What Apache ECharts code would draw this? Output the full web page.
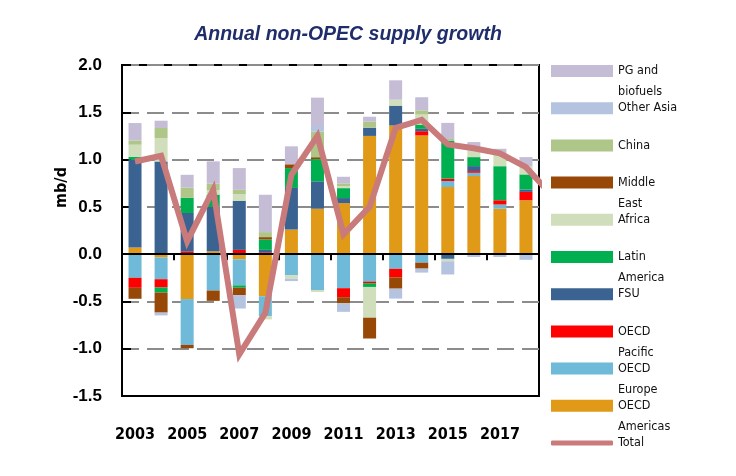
<!DOCTYPE html>
<html><head><meta charset="utf-8">
<script src="https://cdn.jsdelivr.net/npm/echarts@6/dist/echarts.min.js"></script>
<style>html,body{margin:0;padding:0;background:#fff}#c{width:736px;height:476px}</style>
</head><body><div id="c"></div>
<script>
// ---- data (mb/d) ----
const years = ['2003','2004','2005','2006','2007','2008','2009','2010','2011','2012','2013','2014','2015','2016','2017','2018'];
const oecdAmericas = [0.07,-0.035,-0.475,0.03,-0.055,-0.445,0.26,0.48,0.54,1.25,1.36,1.255,0.71,0.825,0.48,0.57];
const oecdEurope   = [-0.25,-0.23,-0.485,-0.385,-0.275,-0.21,-0.225,-0.38,-0.36,-0.29,-0.155,-0.09,0.063,0.035,0.045,0];
const oecdPacific  = [-0.106,-0.088,0.03,0,0.045,0.02,0,0,-0.095,-0.017,-0.09,0.045,0.025,0.018,0.045,0.088];
const fsu          = [0.93,0.98,0.405,0.47,0.52,0.025,0.44,0.29,0.053,0.087,0.21,0.025,-0.05,0.053,0,0.025];
const latinAmerica = [0.03,-0.053,0.16,0.13,-0.025,0.11,0.21,0.235,0.105,-0.04,0,0.045,0.40,0.095,0.36,0.16];
const africa       = [0.127,0.248,0,0.045,0.07,-0.035,-0.035,-0.02,0.02,-0.325,0.063,0.106,-0.025,0.089,0.134,0.088];
const middleEast   = [-0.116,-0.212,-0.035,-0.109,-0.08,0.025,0.04,0.02,-0.065,-0.22,-0.12,-0.063,0,0,0,0];
const china        = [0.045,0.106,0.11,0.07,0.045,0.053,0,0.27,0.03,0.063,0,0.045,0.02,0,0,0];
const otherAsia    = [0,-0.03,0,0,-0.14,0,-0.025,0.06,-0.09,0,-0.105,-0.042,-0.14,-0.03,-0.03,-0.06];
const pgBiofuels   = [0.184,0.077,0.134,0.236,0.23,0.395,0.19,0.30,0.07,0.053,0.205,0.138,0.17,0.07,0.05,0.095];
const totalYears   = [2003,2004,2005,2006,2007,2008,2009,2010,2011,2012,2013,2014,2015,2016,2017,2018,2019];
const totalValues  = [0.98,1.04,0.135,0.68,-1.06,-0.62,0.84,1.25,0.21,0.5,1.335,1.42,1.16,1.12,1.065,0.92,0.62];
const yMin = -1.5, yMax = 2.0, yStep = 0.5;

const NARROW = "'Liberation Sans Narrow','DejaVu Sans Condensed','Liberation Sans',sans-serif";

const barDefs = [
  {name:'OECD Americas', label:'OECD\nAmericas', data:oecdAmericas, color:'#E09A17'},
  {name:'OECD Europe',   label:'OECD\nEurope',   data:oecdEurope,   color:'#6FB9D9'},
  {name:'OECD Pacific',  label:'OECD\nPacific',  data:oecdPacific,  color:'#FF0000'},
  {name:'FSU',           label:'FSU',            data:fsu,          color:'#3B6392'},
  {name:'Latin America', label:'Latin\nAmerica', data:latinAmerica, color:'#00B050'},
  {name:'Africa',        label:'Africa',         data:africa,       color:'#D0DEBB'},
  {name:'Middle East',   label:'Middle\nEast',   data:middleEast,   color:'#974706'},
  {name:'China',         label:'China',          data:china,        color:'#AEC688'},
  {name:'Other Asia',    label:'Other Asia',     data:otherAsia,    color:'#B3C3E0'},
  {name:'PG and biofuels', label:'PG and\nbiofuels', data:pgBiofuels, color:'#C5BCD6'}
];
const totalColor = '#C97A7A';

const series = barDefs.map(d => ({
  name: d.name, type: 'bar', stack: 'supply', xAxisIndex: 0, yAxisIndex: 0,
  barWidth: 13, data: d.data, itemStyle: {color: d.color}, z: 2,
  emphasis: {disabled: true}
}));
series.push({
  name: 'Total', type: 'line', xAxisIndex: 2, yAxisIndex: 0,
  data: totalYears.map((y, i) => [y, totalValues[i]]),
  showSymbol: false, symbol: 'none', clip: true, z: 5,
  lineStyle: {color: totalColor, width: 6, join: 'miter'}, itemStyle: {color: totalColor}
});

// legend: top to bottom; first text line sits beside the swatch
const legendOrder = barDefs.slice().reverse().map(d => ({name: d.name, label: d.label, color: d.color}));
legendOrder.push({name: 'Total', label: 'Total', color: totalColor, line: true});
const legends = legendOrder.map((d, i) => {
  const twoLine = d.label.indexOf('\n') >= 0;
  const cy = 71 + i * 37.2;
  return {
    show: true, orient: 'vertical', left: 551, top: cy - (twoLine ? 31.5 : 10.5), padding: 0,
    selectedMode: false, itemWidth: 62, itemHeight: d.line ? 5 : 12, itemGap: 0,
    data: [{name: d.name, icon: d.line ? 'roundRect' : 'rect', itemStyle: {color: d.color, borderWidth: 0}}],
    formatter: () => (twoLine ? ' \n' : '') + d.label,
    textStyle: {fontFamily: NARROW, fontSize: 12.5, lineHeight: 21, color: '#111'}
  };
});

const option = {
  animation: false,
  backgroundColor: '#fff',
  title: {
    text: 'Annual non-OPEC supply growth', left: 343, top: 20, textAlign: 'center',
    textStyle: {color: '#1F2D6B', fontSize: 19.5, fontWeight: 'bold', fontStyle: 'italic', fontFamily: "'Liberation Sans',sans-serif"}
  },
  legend: legends,
  grid: {left: 122, right: 197, top: 65, bottom: 80, show: true, borderColor: '#000', borderWidth: 2, containLabel: false},
  xAxis: [
    {type: 'category', data: years, position: 'bottom', axisLine: {onZero: false, lineStyle: {color: '#000', width: 2}},
     axisTick: {show: false},
     axisLabel: {interval: 1, margin: 31, color: '#000', fontFamily: NARROW, fontWeight: 'bold', fontSize: 16},
     splitLine: {show: false}},
    {type: 'category', data: years, position: 'top', z: 3,
     axisLine: {onZero: true, lineStyle: {color: '#000', width: 2}},
     axisTick: {show: true, interval: 1, inside: true, length: 6, lineStyle: {color: '#000', width: 2}},
     axisLabel: {show: false}, splitLine: {show: false}},
    {type: 'value', min: 2002.5, max: 2018.5, show: false, position: 'bottom', splitLine: {show: false}}
  ],
  yAxis: {
    type: 'value', min: yMin, max: yMax, interval: yStep,
    name: 'mb/d', nameLocation: 'middle', nameRotate: 90, nameGap: 52, nameMoveOverlap: false,
    nameTextStyle: {fontFamily: NARROW, fontWeight: 'bold', fontSize: 16, color: '#000', padding: [0, 0, 0, 86]},
    axisLine: {show: true, lineStyle: {color: '#000', width: 2}},
    axisTick: {show: true, inside: true, length: 9, lineStyle: {color: '#000', width: 2}},
    axisLabel: {formatter: v => v.toFixed(1), margin: 20, color: '#000', fontWeight: 'bold', fontSize: 17, fontFamily: "'Liberation Sans',sans-serif"},
    splitLine: {show: true, lineStyle: {color: '#8C8C8C', width: 2, type: [17, 8]}}
  },
  series: series
};
const chart = echarts.init(document.getElementById('c'), null, {renderer: 'canvas'});
chart.setOption(option);
</script>
</body></html>
